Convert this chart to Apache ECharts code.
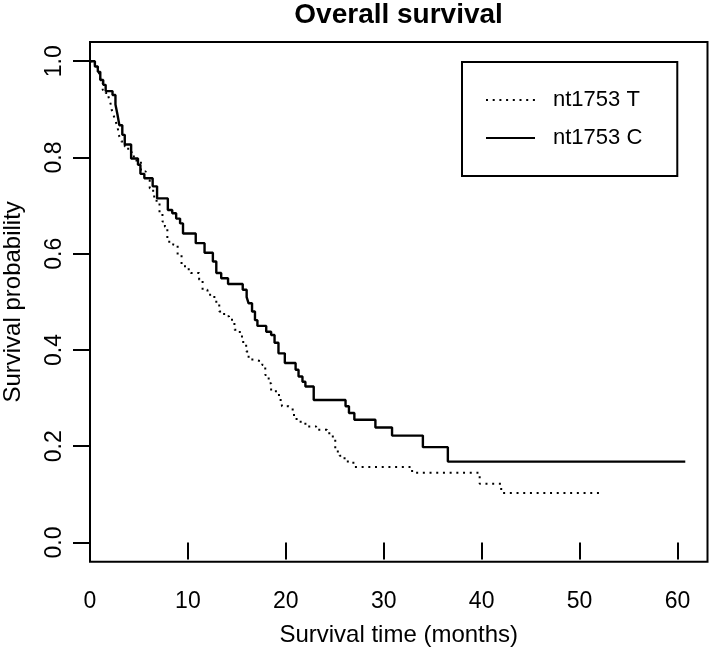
<!DOCTYPE html>
<html><head><meta charset="utf-8">
<script src="https://cdn.jsdelivr.net/npm/echarts@6/dist/echarts.min.js"></script>
<style>html,body{margin:0;padding:0;background:#fff}#c{width:709px;height:649px}</style>
</head><body><div id="c"></div>
<script>
const titleText = 'Overall survival';
const xName = 'Survival time (months)';
const yName = 'Survival probability';
const xTicks = [0, 10, 20, 30, 40, 50, 60];
const yTicks = [0, 0.2, 0.4, 0.6, 0.8, 1.0];
const yTickLabels = ['0.0', '0.2', '0.4', '0.6', '0.8', '1.0'];
const seriesNames = ['nt1753 T', 'nt1753 C'];

const timeT = [0, 0.5, 0.8, 1.05, 1.3, 1.6, 1.9, 2.1, 2.2, 2.4, 2.6, 2.8, 3.0, 3.2, 3.55, 3.9, 4.25, 4.75, 5.2, 5.7, 6.1, 6.45, 6.8, 7.1, 7.4, 7.65, 7.9, 8.5, 8.95, 9.35, 9.7, 10.3, 11.15, 11.5, 12.0, 12.7, 13.2, 13.7, 14.2, 14.75, 15.3, 15.65, 15.95, 16.2, 16.8, 17.6, 17.9, 18.25, 18.5, 19.3, 19.6, 20.3, 20.7, 21.1, 22.0, 23.1, 24.2, 24.8, 25.05, 25.5, 26.0, 26.9, 32.9, 39.8, 42.0, 52.4];
const survT = [1.0, 0.989, 0.975, 0.955, 0.94, 0.934, 0.925, 0.912, 0.9, 0.888, 0.876, 0.864, 0.843, 0.833, 0.823, 0.812, 0.802, 0.791, 0.771, 0.753, 0.736, 0.719, 0.705, 0.684, 0.667, 0.656, 0.625, 0.618, 0.598, 0.577, 0.568, 0.56, 0.546, 0.525, 0.515, 0.50, 0.48, 0.47, 0.463, 0.442, 0.428, 0.414, 0.397, 0.38, 0.376, 0.369, 0.348, 0.331, 0.314, 0.296, 0.283, 0.279, 0.265, 0.251, 0.241, 0.234, 0.227, 0.217, 0.189, 0.18, 0.168, 0.157, 0.145, 0.122, 0.103, 0.103];

const timeC = [0, 0.5, 0.8, 1.05, 1.35, 1.6, 2.3, 2.6, 2.8, 3.0, 3.3, 3.55, 4.2, 4.9, 5.15, 5.55, 6.4, 6.85, 7.95, 8.4, 8.8, 9.2, 9.5, 10.8, 11.7, 12.55, 12.9, 13.4, 14.1, 15.6, 16.0, 16.2, 16.55, 16.85, 17.1, 18.0, 18.5, 18.85, 19.25, 19.9, 21.0, 21.3, 21.7, 22.0, 22.85, 26.1, 26.45, 27.0, 29.15, 30.85, 34.0, 36.55, 60.8];
const survC = [1.0, 0.989, 0.978, 0.961, 0.951, 0.938, 0.93, 0.91, 0.89, 0.867, 0.847, 0.827, 0.798, 0.785, 0.766, 0.757, 0.74, 0.715, 0.691, 0.684, 0.673, 0.663, 0.642, 0.622, 0.602, 0.584, 0.56, 0.549, 0.537, 0.525, 0.51, 0.497, 0.48, 0.462, 0.45, 0.438, 0.431, 0.415, 0.393, 0.373, 0.359, 0.345, 0.334, 0.324, 0.296, 0.283, 0.269, 0.255, 0.239, 0.222, 0.198, 0.168, 0.168];

const FONT = '"Liberation Sans", Arial, Helvetica, sans-serif';
const zip = (a, b) => a.map((v, i) => [v, b[i]]);

const chart = echarts.init(document.getElementById('c'), null, {renderer: 'canvas'});
chart.setOption({
  animation: false,
  backgroundColor: '#fff',
  title: {
    text: titleText, left: 398.6, top: 1, padding: 0, textAlign: 'center',
    textStyle: {fontFamily: FONT, fontSize: 28, fontWeight: 'bold', color: '#000'}
  },
  legend: {
    orient: 'vertical', left: 462, top: 62,
    padding: [26, 35, 26, 23], itemGap: 14, itemWidth: 49, itemHeight: 24,
    borderColor: '#000', borderWidth: 2, borderRadius: 0,
    selectedMode: false,
    itemStyle: {color: 'rgba(0,0,0,0)', borderWidth: 0, opacity: 0},
    textStyle: {fontFamily: FONT, fontSize: 22, color: '#000', padding: [0, 0, 0, 13], lineHeight: 24},
    data: seriesNames
  },
  grid: {
    left: 90, top: 42, right: 1.5, bottom: 87.3,
    outerBoundsMode: 'none', containLabel: false,
    show: true, borderColor: '#000', borderWidth: 2, backgroundColor: 'transparent'
  },
  xAxis: {
    type: 'value', min: 0, max: 63.07,
    name: xName, nameLocation: 'middle', nameGap: 62,
    nameTextStyle: {fontFamily: FONT, fontSize: 24, color: '#000'},
    axisLine: {show: false},
    splitLine: {show: false},
    axisTick: {show: true, length: 17, lineStyle: {color: '#000', width: 2}, customValues: xTicks},
    axisLabel: {fontFamily: FONT, fontSize: 23, color: '#000', margin: 28, customValues: xTicks}
  },
  yAxis: {
    type: 'value', min: -0.04, max: 1.04,
    name: yName, nameLocation: 'middle', nameGap: 65,
    nameTextStyle: {fontFamily: FONT, fontSize: 24, color: '#000'},
    axisLine: {show: false},
    splitLine: {show: false},
    axisTick: {show: true, length: 17, lineStyle: {color: '#000', width: 2}, customValues: yTicks},
    axisLabel: {
      fontFamily: FONT, fontSize: 23, color: '#000', margin: 24, rotate: 90,
      customValues: yTicks,
      formatter: v => { const i = yTicks.findIndex(t => Math.abs(t - v) < 1e-9); return i >= 0 ? yTickLabels[i] : ''; }
    }
  },
  series: [
    {
      name: seriesNames[0], type: 'line', step: 'end', symbol: 'none',
      data: zip(timeT, survT),
      lineStyle: {color: '#000', width: 2, type: [2, 4.7], cap: 'butt'},
      itemStyle: {color: '#000'}
    },
    {
      name: seriesNames[1], type: 'line', step: 'end', symbol: 'none',
      data: zip(timeC, survC),
      lineStyle: {color: '#000', width: 2.4, type: 'solid'},
      itemStyle: {color: '#000'}
    }
  ]
});
</script></body></html>
